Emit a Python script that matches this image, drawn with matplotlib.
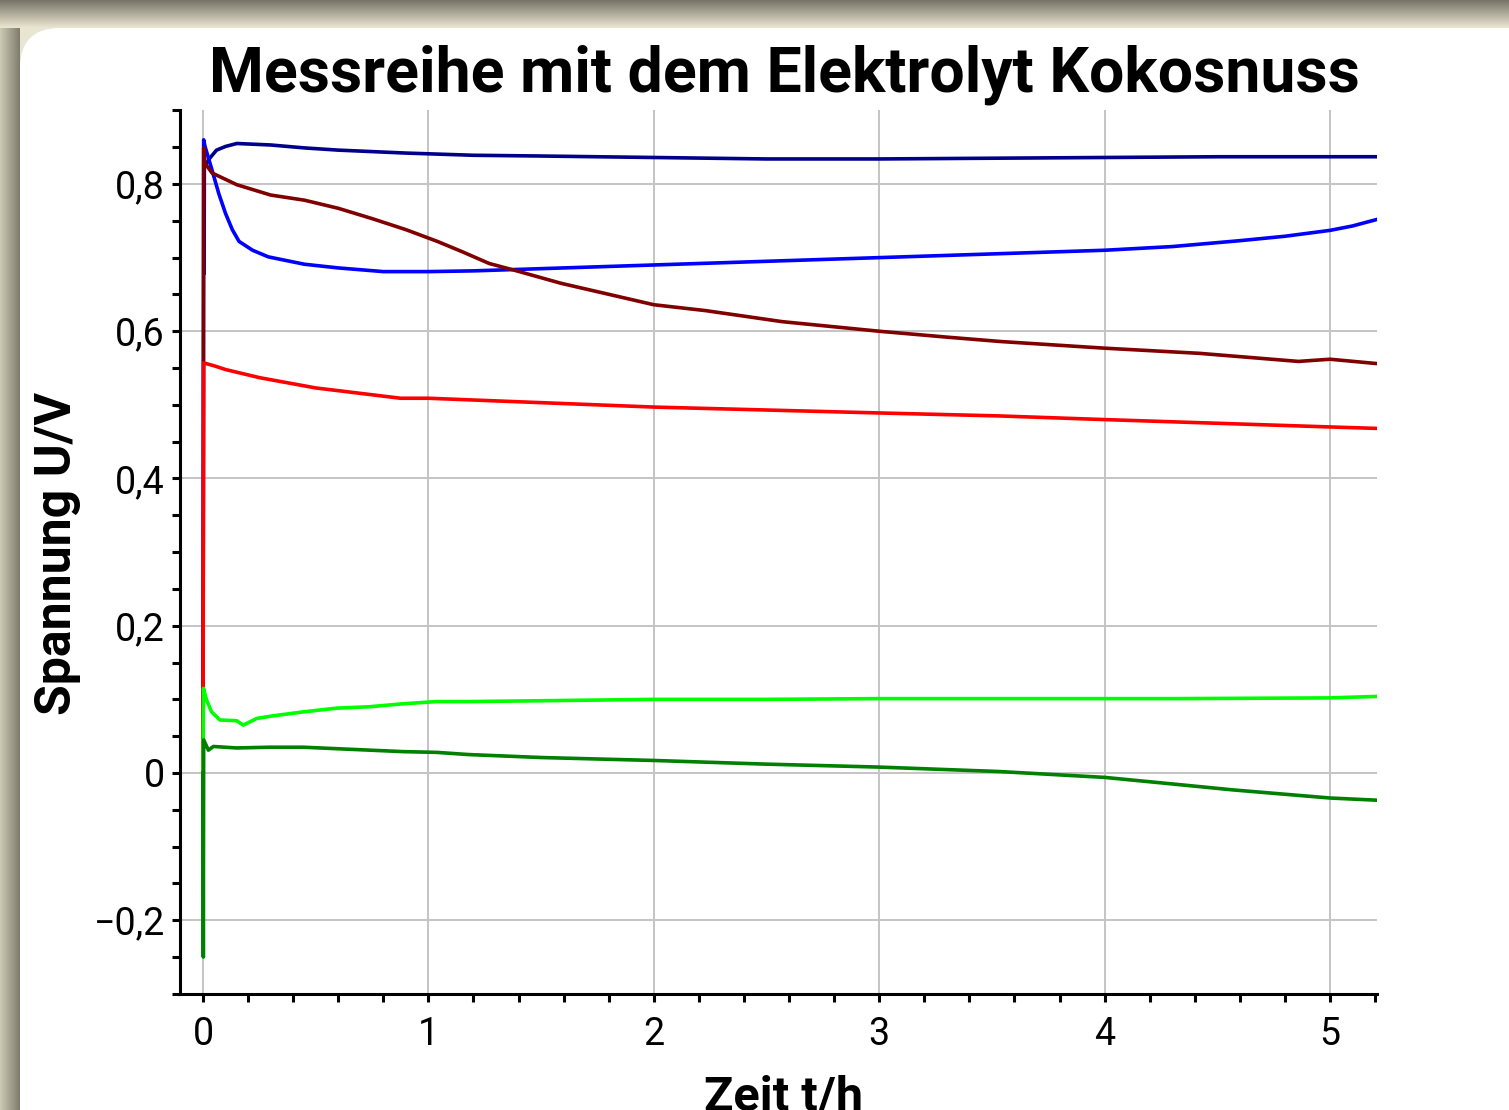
import matplotlib.pyplot as plt
import numpy as np
from matplotlib.patches import FancyBboxPatch, Rectangle
from matplotlib.ticker import MultipleLocator, FuncFormatter

# values (time in h, voltage in V)
navy_t = [0.005, 0.006, 0.03, 0.06, 0.10, 0.15, 0.30, 0.45, 0.60, 0.75, 0.90,
          1.2, 1.5, 2.0, 2.5, 3.0, 3.5, 4.0, 4.5, 5.0, 5.21]
navy_v = [0.679, 0.823, 0.835, 0.846, 0.851, 0.855, 0.853, 0.849, 0.846, 0.844, 0.842,
          0.839, 0.838, 0.836, 0.834, 0.834, 0.835, 0.836, 0.837, 0.837, 0.837]

blue_t = [0.0, 0.003, 0.009, 0.04, 0.07, 0.10, 0.13, 0.16, 0.22, 0.29, 0.45, 0.6,
          0.8, 1.0, 1.2, 1.5, 2.0, 2.5, 3.0, 3.5, 4.0, 4.3, 4.6, 4.8, 5.0, 5.1, 5.21]
blue_v = [0.0, 0.860, 0.851, 0.819, 0.787, 0.760, 0.738, 0.722, 0.710, 0.701, 0.691, 0.686,
          0.681, 0.681, 0.682, 0.685, 0.690, 0.695, 0.700, 0.705, 0.710, 0.715, 0.723, 0.729,
          0.737, 0.743, 0.752]

maroon_t = [0.0, 0.003, 0.009, 0.04, 0.15, 0.30, 0.45, 0.60, 0.75, 0.90, 1.04, 1.15,
            1.27, 1.38, 1.59, 1.76, 2.0, 2.23, 2.57, 3.0, 3.3, 3.54, 4.0, 4.42, 4.86,
            5.0, 5.21]
maroon_v = [0.0, 0.849, 0.828, 0.815, 0.799, 0.785, 0.778, 0.767, 0.753, 0.738, 0.722, 0.708,
            0.692, 0.683, 0.665, 0.653, 0.636, 0.628, 0.613, 0.600, 0.592, 0.586, 0.577,
            0.570, 0.559, 0.562, 0.556]

red_t = [0.0, 0.003, 0.05, 0.10, 0.25, 0.50, 0.876, 1.0, 1.5, 2.0, 2.5, 3.0, 3.53,
         4.0, 4.5, 5.0, 5.21]
red_v = [0.0, 0.557, 0.553, 0.548, 0.537, 0.523, 0.509, 0.509, 0.503, 0.497, 0.493,
         0.489, 0.485, 0.480, 0.475, 0.470, 0.468]

lime_t = [0.0, 0.002, 0.016, 0.038, 0.075, 0.149, 0.179, 0.238, 0.297, 0.445, 0.592,
          0.74, 0.888, 1.036, 1.18, 1.47, 2.0, 2.5, 3.0, 3.61, 4.32, 5.0, 5.21]
lime_v = [0.0, 0.115, 0.099, 0.083, 0.072, 0.071, 0.065, 0.074, 0.077, 0.083, 0.088,
          0.090, 0.094, 0.097, 0.097, 0.098, 0.100, 0.100, 0.101, 0.101, 0.101, 0.102, 0.104]

green_t = [0.0, 0.0015, 0.003, 0.024, 0.046, 0.149, 0.297, 0.445, 0.592, 0.74, 0.888,
           1.036, 1.18, 1.5, 2.0, 2.5, 3.0, 3.53, 4.0, 4.27, 4.57, 5.0, 5.21]
green_v = [0.0, -0.250, 0.045, 0.031, 0.036, 0.034, 0.035, 0.035, 0.033, 0.031, 0.029,
           0.028, 0.025, 0.021, 0.017, 0.012, 0.008, 0.002, -0.006, -0.014, -0.023,
           -0.034, -0.037]

title = "Messreihe mit dem Elektrolyt Kokosnuss"
xlabel = "Zeit t/h"
ylabel = "Spannung U/V"

W, H = 1509, 1110
plt.rcParams["font.family"] = ["Roboto", "DejaVu Sans"]
fig = plt.figure(figsize=(W / 100, H / 100), dpi=100)
fig.patch.set_facecolor("#e8e5d2")

# page frame around the white panel (pixel coordinates)
bg = fig.add_axes([0, 0, 1, 1], zorder=-10)
bg.set_xlim(0, W)
bg.set_ylim(H, 0)
bg.axis("off")
top = np.linspace(0, 1, 28)[:, None]
bg.imshow(np.dstack([0.47 + 0.45 * top, 0.46 + 0.44 * top, 0.41 + 0.41 * top]) * np.ones((1, 2, 1)),
          extent=(0, W, 28, 0), aspect="auto", zorder=0)
left = np.linspace(0, 1, 20)[None, :]
bg.imshow(np.dstack([0.80 - 0.30 * left, 0.79 - 0.30 * left, 0.70 - 0.27 * left]) * np.ones((2, 1, 1)),
          extent=(0, 20, H, 28), aspect="auto", zorder=1)
bg.add_patch(FancyBboxPatch((20, 28), W + 100, H + 100,
                            boxstyle="round,pad=0,rounding_size=40",
                            facecolor="white", edgecolor="none", zorder=2))
bg.set_xlim(0, W)
bg.set_ylim(H, 0)

ax = fig.add_axes([180 / W, 1 - 994 / H, (1377 - 180) / W, (994 - 110) / H])
ax.set_facecolor("none")

ax.plot(navy_t, navy_v, color="#00008b", lw=2.6)
ax.plot(blue_t, blue_v, color="#0000ff", lw=2.6)
ax.plot(maroon_t, maroon_v, color="#800000", lw=2.6)
ax.plot(red_t, red_v, color="#ff0000", lw=2.6)
ax.plot(lime_t, lime_v, color="#00ff00", lw=2.6)
ax.plot(green_t, green_v, color="#008000", lw=2.6)

ax.set_xlim(-0.102, 5.2085)
ax.set_ylim(-0.3002, 0.9005)

ax.xaxis.set_major_locator(MultipleLocator(1))
ax.xaxis.set_minor_locator(MultipleLocator(0.2))
ax.yaxis.set_major_locator(MultipleLocator(0.2))
ax.yaxis.set_minor_locator(MultipleLocator(0.05))
ax.yaxis.set_major_formatter(FuncFormatter(
    lambda v, _: ("\u2212" if v < -1e-9 else "") + f"{abs(v):.1f}".replace(".", ",").replace("0,0", "0")))
ax.xaxis.set_major_formatter(FuncFormatter(lambda v, _: f"{v:.0f}"))

for s in ("top", "right"):
    ax.spines[s].set_visible(False)
for s in ("left", "bottom"):
    ax.spines[s].set_linewidth(2.2)

ax.tick_params(which="both", direction="out", length=6, width=2.2, color="black")
ax.tick_params(axis="both", which="major", labelsize=27, pad=5)
ax.tick_params(axis="x", which="major", pad=10)

ax.grid(True, which="major", color="#c4c4c4", lw=1.4)
ax.set_axisbelow(True)

fig.text(784 / W, 1 - 75 / H, title, ha="center", va="center",
         fontsize=45, fontweight="bold")
fig.text(784 / W, 1 - 1075 / H, xlabel, ha="center", va="top",
         fontsize=35, fontweight="bold")
fig.text(58 / W, 1 - 553 / H, ylabel, ha="center", va="center", rotation=90,
         fontsize=36, fontweight="bold")

fig.savefig("out.png", dpi=100, facecolor=fig.get_facecolor())
